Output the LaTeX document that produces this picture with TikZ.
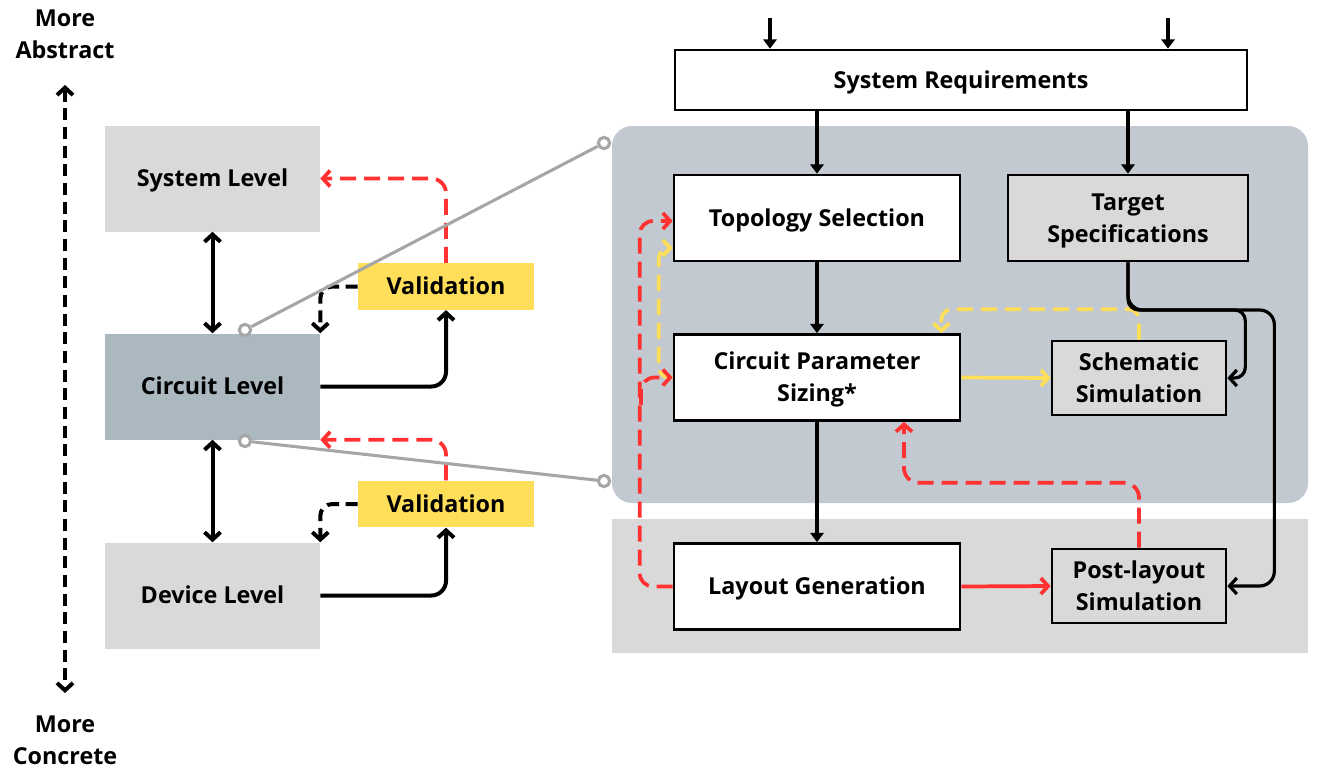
\documentclass[tikz,border=0pt]{standalone}
\usepackage{fontspec}
\setmainfont{Open Sans}
\usetikzlibrary{arrows.meta,calc}
\definecolor{lgray}{HTML}{D9D9D9}
\definecolor{cgray}{HTML}{ABB8C0}
\definecolor{pgray}{HTML}{C2C9D0}
\definecolor{vyel}{HTML}{FFDE59}
\definecolor{cred}{HTML}{FF3131}
\definecolor{lgrey}{HTML}{A6A6A6}
\begin{document}
\begin{tikzpicture}[x=0.75pt,y=-0.75pt,
  every node/.style={font=\fontsize{17.5}{24}\selectfont\bfseries, align=center, inner sep=0pt, text height=12.5pt, text depth=0pt},
  ml/.style={text height=36.5pt},
  lvl/.style={minimum width=161.25pt, minimum height=79.5pt},
  val/.style={fill=vyel, minimum width=132pt, minimum height=35pt},
  box/.style={draw=black, line width=2pt, minimum height=64.5pt},
  bk/.style={line width=3pt, draw=black},
  rd/.style={line width=2.8pt, draw=cred},
  yl/.style={line width=2.8pt, draw=vyel},
  gl/.style={line width=2.3pt, draw=lgrey},
  gc/.style={circle, draw=lgrey, line width=2.3pt, fill=white, minimum size=8.5pt, text height=0pt, text depth=0pt},
  dsh/.style={dash pattern=on 12pt off 6pt},
  dshk/.style={dash pattern=on 9pt off 5pt},
  chev/.style={-{Straight Barb[length=5.5pt,width=12pt]}},
  dbl/.style={{Straight Barb[length=5.5pt,width=12pt]}-{Straight Barb[length=5.5pt,width=12pt]}},
  tri/.style={-{Triangle[length=7pt,width=10pt]}}
]
\useasboundingbox (0,0) rectangle (1330,783);
% background panels
\fill[pgray, rounded corners=15pt] (612,126) rectangle (1308,503);
\fill[lgray] (612,519) rectangle (1308,653);

% left column
\node[lvl, fill=lgray] (sys) at (212.5,178.5) {System Level};
\node[lvl, fill=cgray] (cir) at (212.5,386.5) {Circuit Level};
\node[lvl, fill=lgray] (dev) at (212.5,595.5) {Device Level};
\node[val] (val1) at (446,286.5) {Validation};
\node[val] (val2) at (446,504) {Validation};
\node[ml] (abs) at (65,34) {More\\Abstract};
\node[ml] (con) at (65,740) {More\\Concrete};
\coordinate (axT) at (65,85);
\coordinate (axB) at (65,693);

% right column
\node[box, fill=white, minimum width=429pt, minimum height=45pt] (req) at (961,80) {System Requirements};
\node[box, fill=white, minimum width=214.5pt] (topo) at (817,218) {Topology Selection};
\node[box, fill=white, minimum width=214.5pt, ml] (cps) at (817,377.5) {Circuit Parameter\\Sizing*};
\node[box, fill=white, minimum width=214.5pt] (lay) at (817,586.5) {Layout Generation};
\node[box, fill=lgray, minimum width=180pt, ml] (tgt) at (1128,218) {Target\\Specifications};
\node[box, fill=lgray, minimum width=130.5pt, minimum height=55.5pt, ml] (sch) at (1139,378) {Schematic\\Simulation};
\node[box, fill=lgray, minimum width=130.5pt, minimum height=55.5pt, ml] (post) at (1139,586) {Post-layout\\Simulation};

% left connectors
\draw[bk, dshk, dbl] (axT) -- (axB);
\draw[bk, dbl] (sys.south) -- (cir.north);
\draw[bk, dbl] (cir.south) -- (dev.north);
\draw[bk, chev, rounded corners=11pt] (cir.east) -| (val1.south);
\draw[bk, chev, rounded corners=11pt] (dev.east) -| (val2.south);
\draw[bk, dshk, chev, rounded corners=9pt] (val1.west) -| (cir.north east);
\draw[bk, dshk, chev, rounded corners=9pt] (val2.west) -| (dev.north east);
\draw[rd, dsh, chev, rounded corners=11pt] (val1.north) |- (sys.east);
\draw[rd, dsh, chev, rounded corners=11pt] (val2.north) |- (cir.south east);

% right connectors
\coordinate (in1) at (770,18);
\coordinate (in2) at (1168,18);
\draw[bk, tri] (in1) -- (in1 |- req.north);
\draw[bk, tri] (in2) -- (in2 |- req.north);
\draw[bk, tri] (topo.north |- req.south) -- (topo.north);
\draw[bk, tri] (tgt.north |- req.south) -- (tgt.north);
\draw[bk, tri, line width=3.4pt] (topo.south) -- (cps.north);
\draw[bk, tri, line width=3.4pt] (cps.south) -- (lay.north);

\draw[yl, chev] (cps.east) -- (sch.west);
\draw[yl, dsh, chev, rounded corners=8pt] (sch.north) |- ($(cps.north east)+(-20,-24)$) -- ($(cps.north east)+(-20,0)$);
\draw[yl, dsh, chev, rounded corners=8pt] (cps.west) -| ($(topo.west)+(-14,30)$) -- ($(topo.west)+(0,30)$);

\coordinate (rb) at (641,405);
\draw[rd, dsh, chev, rounded corners=10pt] (lay.west) -| ($(topo.west)+(-33,3)$) -- ($(topo.west)+(0,3)$);
\draw[rd, dsh, chev, rounded corners=10pt] (rb) |- (cps.west);
\draw[rd, chev] (lay.east) -- (post.west);
\draw[rd, dsh, chev, rounded corners=11pt] (post.north) |- ($(cps.south)+(87,61)$) -- ($(cps.south)+(87,0)$);

\draw[bk, chev, line width=2.4pt, rounded corners=8pt] (tgt.south) |- ($(sch.east)+(18,-68)$) |- (sch.east);
\draw[bk, chev, line width=2.4pt, rounded corners=11pt] (tgt.south) |- ($(post.east)+(47,-276)$) |- (post.east);

% zoom lines
\node[gc] (g1) at (245,330) {};
\node[gc] (g2) at (604,143) {};
\node[gc] (g3) at (245,441) {};
\node[gc] (g4) at (604,481) {};
\draw[gl] (g1) -- (g2);
\draw[gl] (g3) -- (g4);
\end{tikzpicture}
\end{document}
